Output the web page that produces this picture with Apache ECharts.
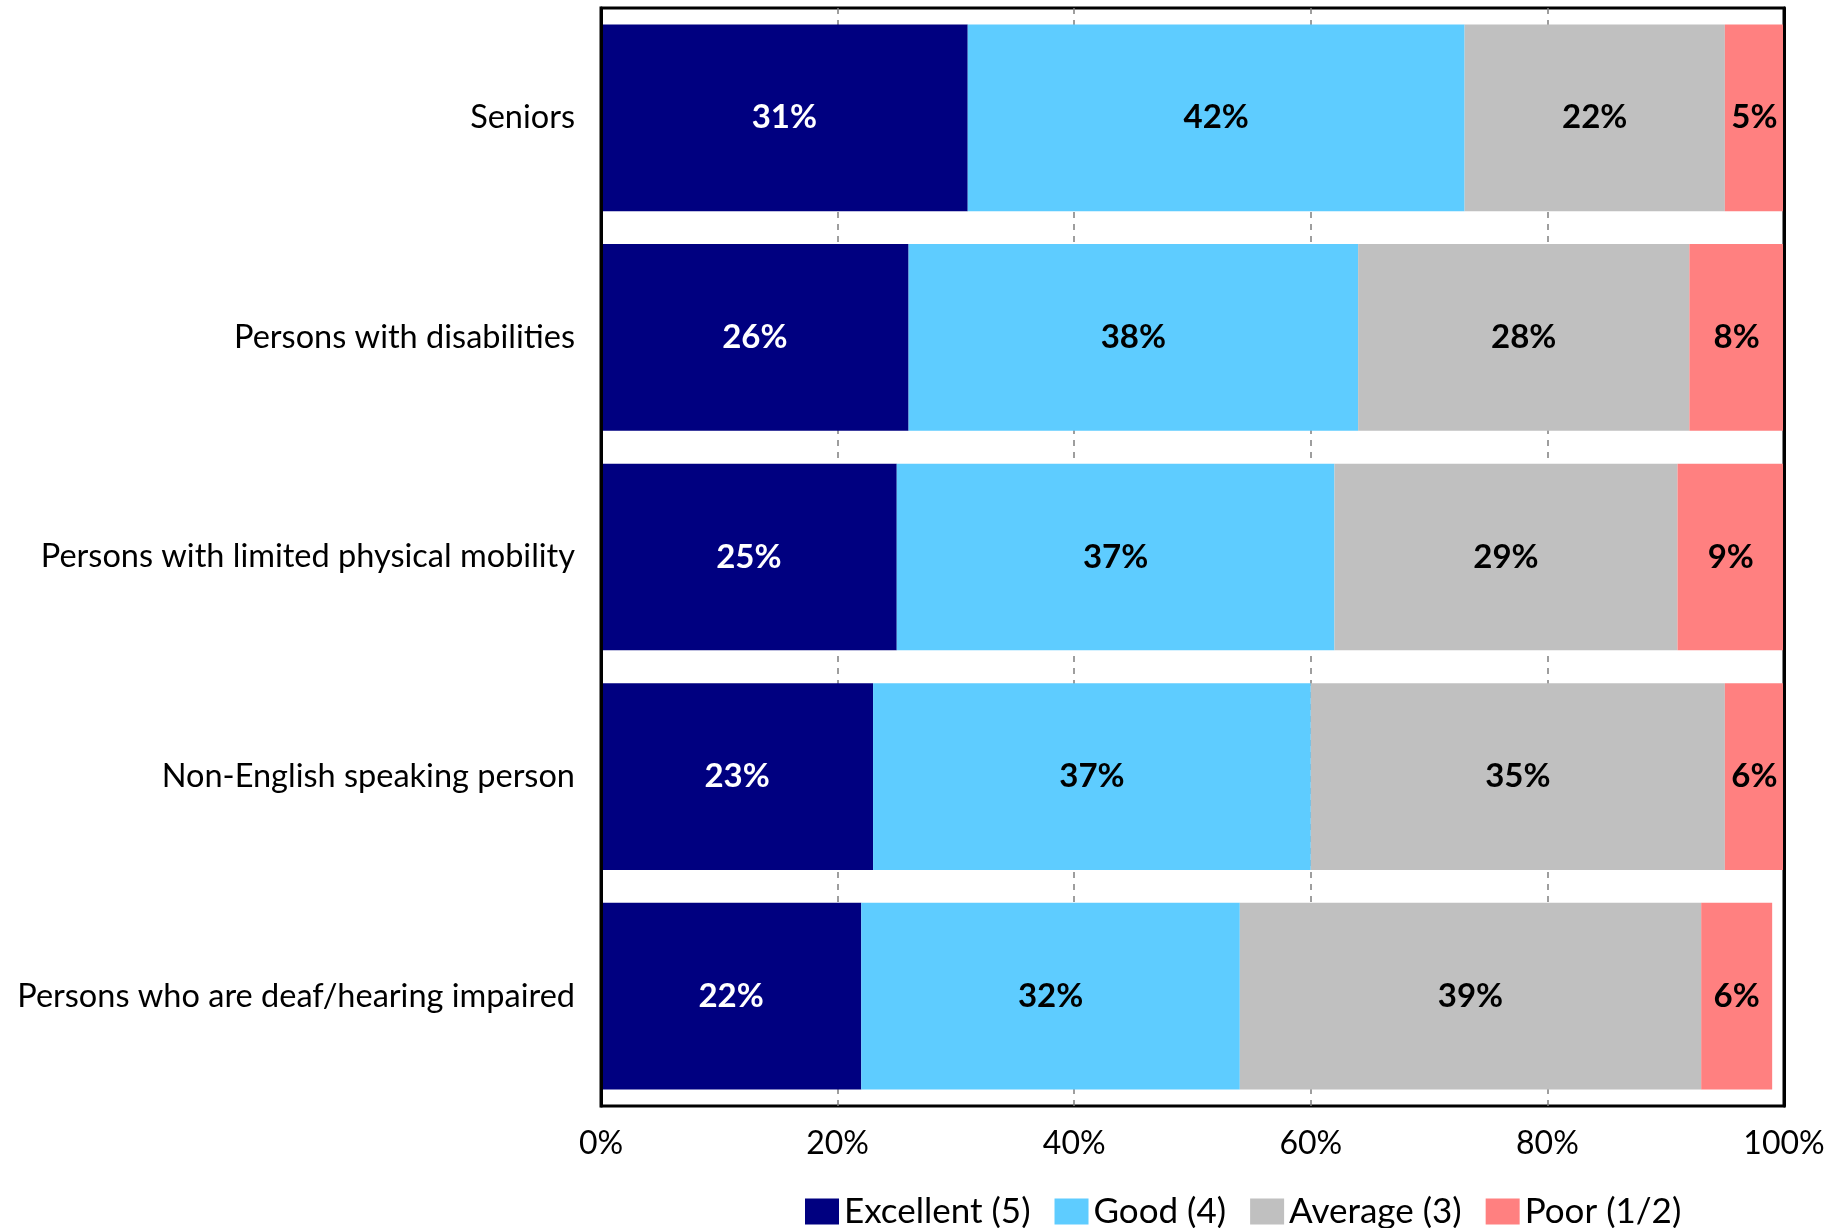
<!DOCTYPE html>
<html>
<head>
<meta charset="utf-8">
<script src="https://cdn.jsdelivr.net/npm/echarts@6/dist/echarts.min.js"></script>
<style>
  html, body { margin: 0; padding: 0; background: #fff; }
  #chart { width: 1848px; height: 1228px; }
</style>
</head>
<body>
<div id="chart"></div>
<script>
// Rating of accessibility by group, shares of respondents (%)
const categories = [
  'Seniors',
  'Persons with disabilities',
  'Persons with limited physical mobility',
  'Non-English speaking person',
  'Persons who are deaf/hearing impaired'
];
const excellent = [31, 26, 25, 23, 22];
const good      = [42, 38, 37, 37, 32];
const average   = [22, 28, 29, 35, 39];
const poor      = [5, 8, 9, 6, 6];
const seriesNames = ['Excellent (5)', 'Good (4)', 'Average (3)', 'Poor (1/2)'];
const xTicks = [0, 20, 40, 60, 80, 100];

const FONT = 'Lato';
const colors = ['#000080', '#5ECCFF', '#C0C0C0', '#FF8080'];
const labelColors = ['#ffffff', '#000000', '#000000', '#000000'];

function makeSeries(name, data, i) {
  return {
    name: name,
    type: 'bar',
    stack: 'total',
    data: data,
    barCategoryGap: '15%',
    clip: true,
    itemStyle: { color: colors[i] },
    label: {
      show: true,
      position: 'inside',
      formatter: p => p.value + '%',
      color: labelColors[i],
      fontFamily: FONT,
      fontWeight: 'bold',
      fontSize: 33
    },
    emphasis: { disabled: true }
  };
}

const frameLine = { show: true, lineStyle: { color: '#000000', width: 3 } };

const chart = echarts.init(document.getElementById('chart'), null, { renderer: 'canvas' });
chart.setOption({
  animation: false,
  backgroundColor: '#ffffff',
  textStyle: { fontFamily: FONT },
  grid: {
    left: 601, right: 64, top: 8, bottom: 122,
    show: true, borderColor: '#000000', borderWidth: 3,
    backgroundColor: 'transparent'
  },
  legend: {
    left: 800, top: 1189,
    itemWidth: 34, itemHeight: 26, itemGap: 24,
    icon: 'rect',
    textStyle: { fontFamily: FONT, fontSize: 35, color: '#000' },
    data: seriesNames
  },
  xAxis: {
    type: 'value',
    min: 0, max: 100, interval: 20,
    axisLine: { show: false },
    axisTick: { show: false },
    axisLabel: {
      margin: 22,
      fontFamily: FONT, fontSize: 32, color: '#000',
      formatter: v => (xTicks.includes(v) ? v + '%' : '')
    },
    splitLine: {
      show: true, showMinLine: false, showMaxLine: false,
      lineStyle: { color: '#7f7f7f', width: 1.5, type: [6, 6] }
    }
  },
  yAxis: [
    {
      type: 'category',
      position: 'left',
      inverse: true,
      data: categories,
      z: 10,
      axisLine: frameLine,
      axisTick: { show: false },
      axisLabel: { margin: 26, fontFamily: FONT, fontSize: 32.5, color: '#000' }
    },
    {
      type: 'category',
      position: 'right',
      inverse: true,
      data: categories,
      z: 10,
      axisLine: frameLine,
      axisTick: { show: false },
      axisLabel: { show: false }
    }
  ],
  series: [
    makeSeries(seriesNames[0], excellent, 0),
    makeSeries(seriesNames[1], good, 1),
    makeSeries(seriesNames[2], average, 2),
    makeSeries(seriesNames[3], poor, 3)
  ]
});
</script>
</body>
</html>
